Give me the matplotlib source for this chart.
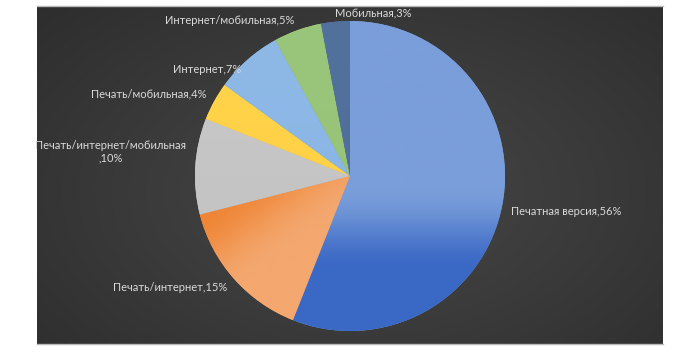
import numpy as np
import matplotlib
matplotlib.use('Agg')
import matplotlib.pyplot as plt
from matplotlib.colors import to_rgb, LinearSegmentedColormap

# ---- data ----
labels = ['Печатная версия', 'Печать/интернет', 'Печать/интернет/мобильная',
          'Печать/мобильная', 'Интернет', 'Интернет/мобильная', 'Мобильная']
values = [56, 15, 10, 4, 7, 5, 3]
label_texts = ['Печатная версия,56%', 'Печать/интернет,15%',
               'Печать/интернет/мобильная\n,10%', 'Печать/мобильная,4%',
               'Интернет,7%', 'Интернет/мобильная,5%', 'Мобильная,3%']

# ---- styles ----
light_cols = ['#7A9EDA', '#F4A76E', '#C8C8C8', '#FFD34B', '#8EB9E7', '#9AC67C', '#52719C']
dark_cols = ['#3A68C5', '#EF8535', '#C2C2C2', '#FFCF40', '#86B2E3', '#94C176', '#4D6C97']
# gradient direction (unit vector, pointing towards light) and range along it
grad_dir = [(0, 1), (0.6, -0.8), (0, 1), (0, 1), (0, 1), (0, 1), (0, 1)]
grad_rng = [(-0.62, -0.08), (-0.38, 0.12), (-1, 1), (-1, 1), (-1, 1), (-1, 1), (-1, 1)]
label_ha = ['left', 'right', 'right', 'right', 'right', 'right', 'left']
label_nudge = [(0, -5), (0, -3), (0, 14), (0, 3), (0, -17), (0, 1), (0, -1)]  # pixels

W, H = 700, 355
fig = plt.figure(figsize=(W / 100, H / 100), dpi=100)
fig.patch.set_facecolor('white')

# ---- background panel with radial gradient ----
bx0, bx1, by_top, by_bot = 37, 663, 6, 344
bg = fig.add_axes([bx0 / W, (H - by_bot) / H, (bx1 - bx0) / W, (by_bot - by_top) / H])
bg.set_axis_off()
ny, nx = 200, 400
yy, xx = np.mgrid[0:1:ny * 1j, 0:1:nx * 1j]
d = np.sqrt(((xx - 0.52) / 0.75) ** 2 + ((yy - 0.45) / 0.85) ** 2)
d = np.clip(d, 0, 1)
bgcmap = LinearSegmentedColormap.from_list('bg', ['#474747', '#3a3a3a', '#2c2c2c'])
bg.imshow(d, cmap=bgcmap, vmin=0, vmax=1, extent=[0, 1, 0, 1], aspect='auto', origin='lower')
bg.set_xlim(0, 1)
bg.set_ylim(0, 1)
# thin light lines on top/bottom edges
fig.add_artist(plt.Line2D([bx0 / W, bx1 / W], [(H - by_top) / H] * 2, color='#b8b8b8', lw=1.0))
fig.add_artist(plt.Line2D([bx0 / W, bx1 / W], [(H - by_bot) / H] * 2, color='#b8b8b8', lw=1.0))

# ---- pie ----
cx, cy, R = 350, 176, 155
ax = fig.add_axes([0, 0, 1, 1])
ax.patch.set_alpha(0)
wedges, _ = ax.pie(values, startangle=90, counterclock=False, colors=light_cols,
                   radius=1, center=(0, 0), wedgeprops=dict(linewidth=0))

# gradient fills clipped to wedges
gy, gx = np.mgrid[-1:1:300j, -1:1:300j]
for i, w in enumerate(wedges):
    dx_, dy_ = grad_dir[i]
    p = gx * dx_ + gy * dy_
    lo, hi = grad_rng[i]
    t = np.clip((p - lo) / (hi - lo), 0, 1)
    t = t * t * (3 - 2 * t)
    c0 = np.array(to_rgb(dark_cols[i]))
    c1 = np.array(to_rgb(light_cols[i]))
    img = c0[None, None, :] * (1 - t[..., None]) + c1[None, None, :] * t[..., None]
    im = ax.imshow(img, extent=[-1, 1, -1, 1], origin='lower', interpolation='bilinear',
                   zorder=w.get_zorder() + 0.1)
    im.set_clip_path(w)
ax.set_xlim(-cx / R, (W - cx) / R)
ax.set_ylim(-(H - cy) / R, cy / R)
ax.set_aspect('auto')
ax.set_axis_off()

# ---- labels ----
for i, w in enumerate(wedges):
    mid = np.deg2rad((w.theta1 + w.theta2) / 2)
    r = 1.06
    x = r * np.cos(mid) + label_nudge[i][0] / R
    y = r * np.sin(mid) + label_nudge[i][1] / R
    ax.text(x, y, label_texts[i], ha=label_ha[i], va='center', multialignment='center',
            color='#D9D9D9', fontsize=8.0, family=['Lato', 'DejaVu Sans'], zorder=10)

fig.savefig('out.png', dpi=100, facecolor='white')
